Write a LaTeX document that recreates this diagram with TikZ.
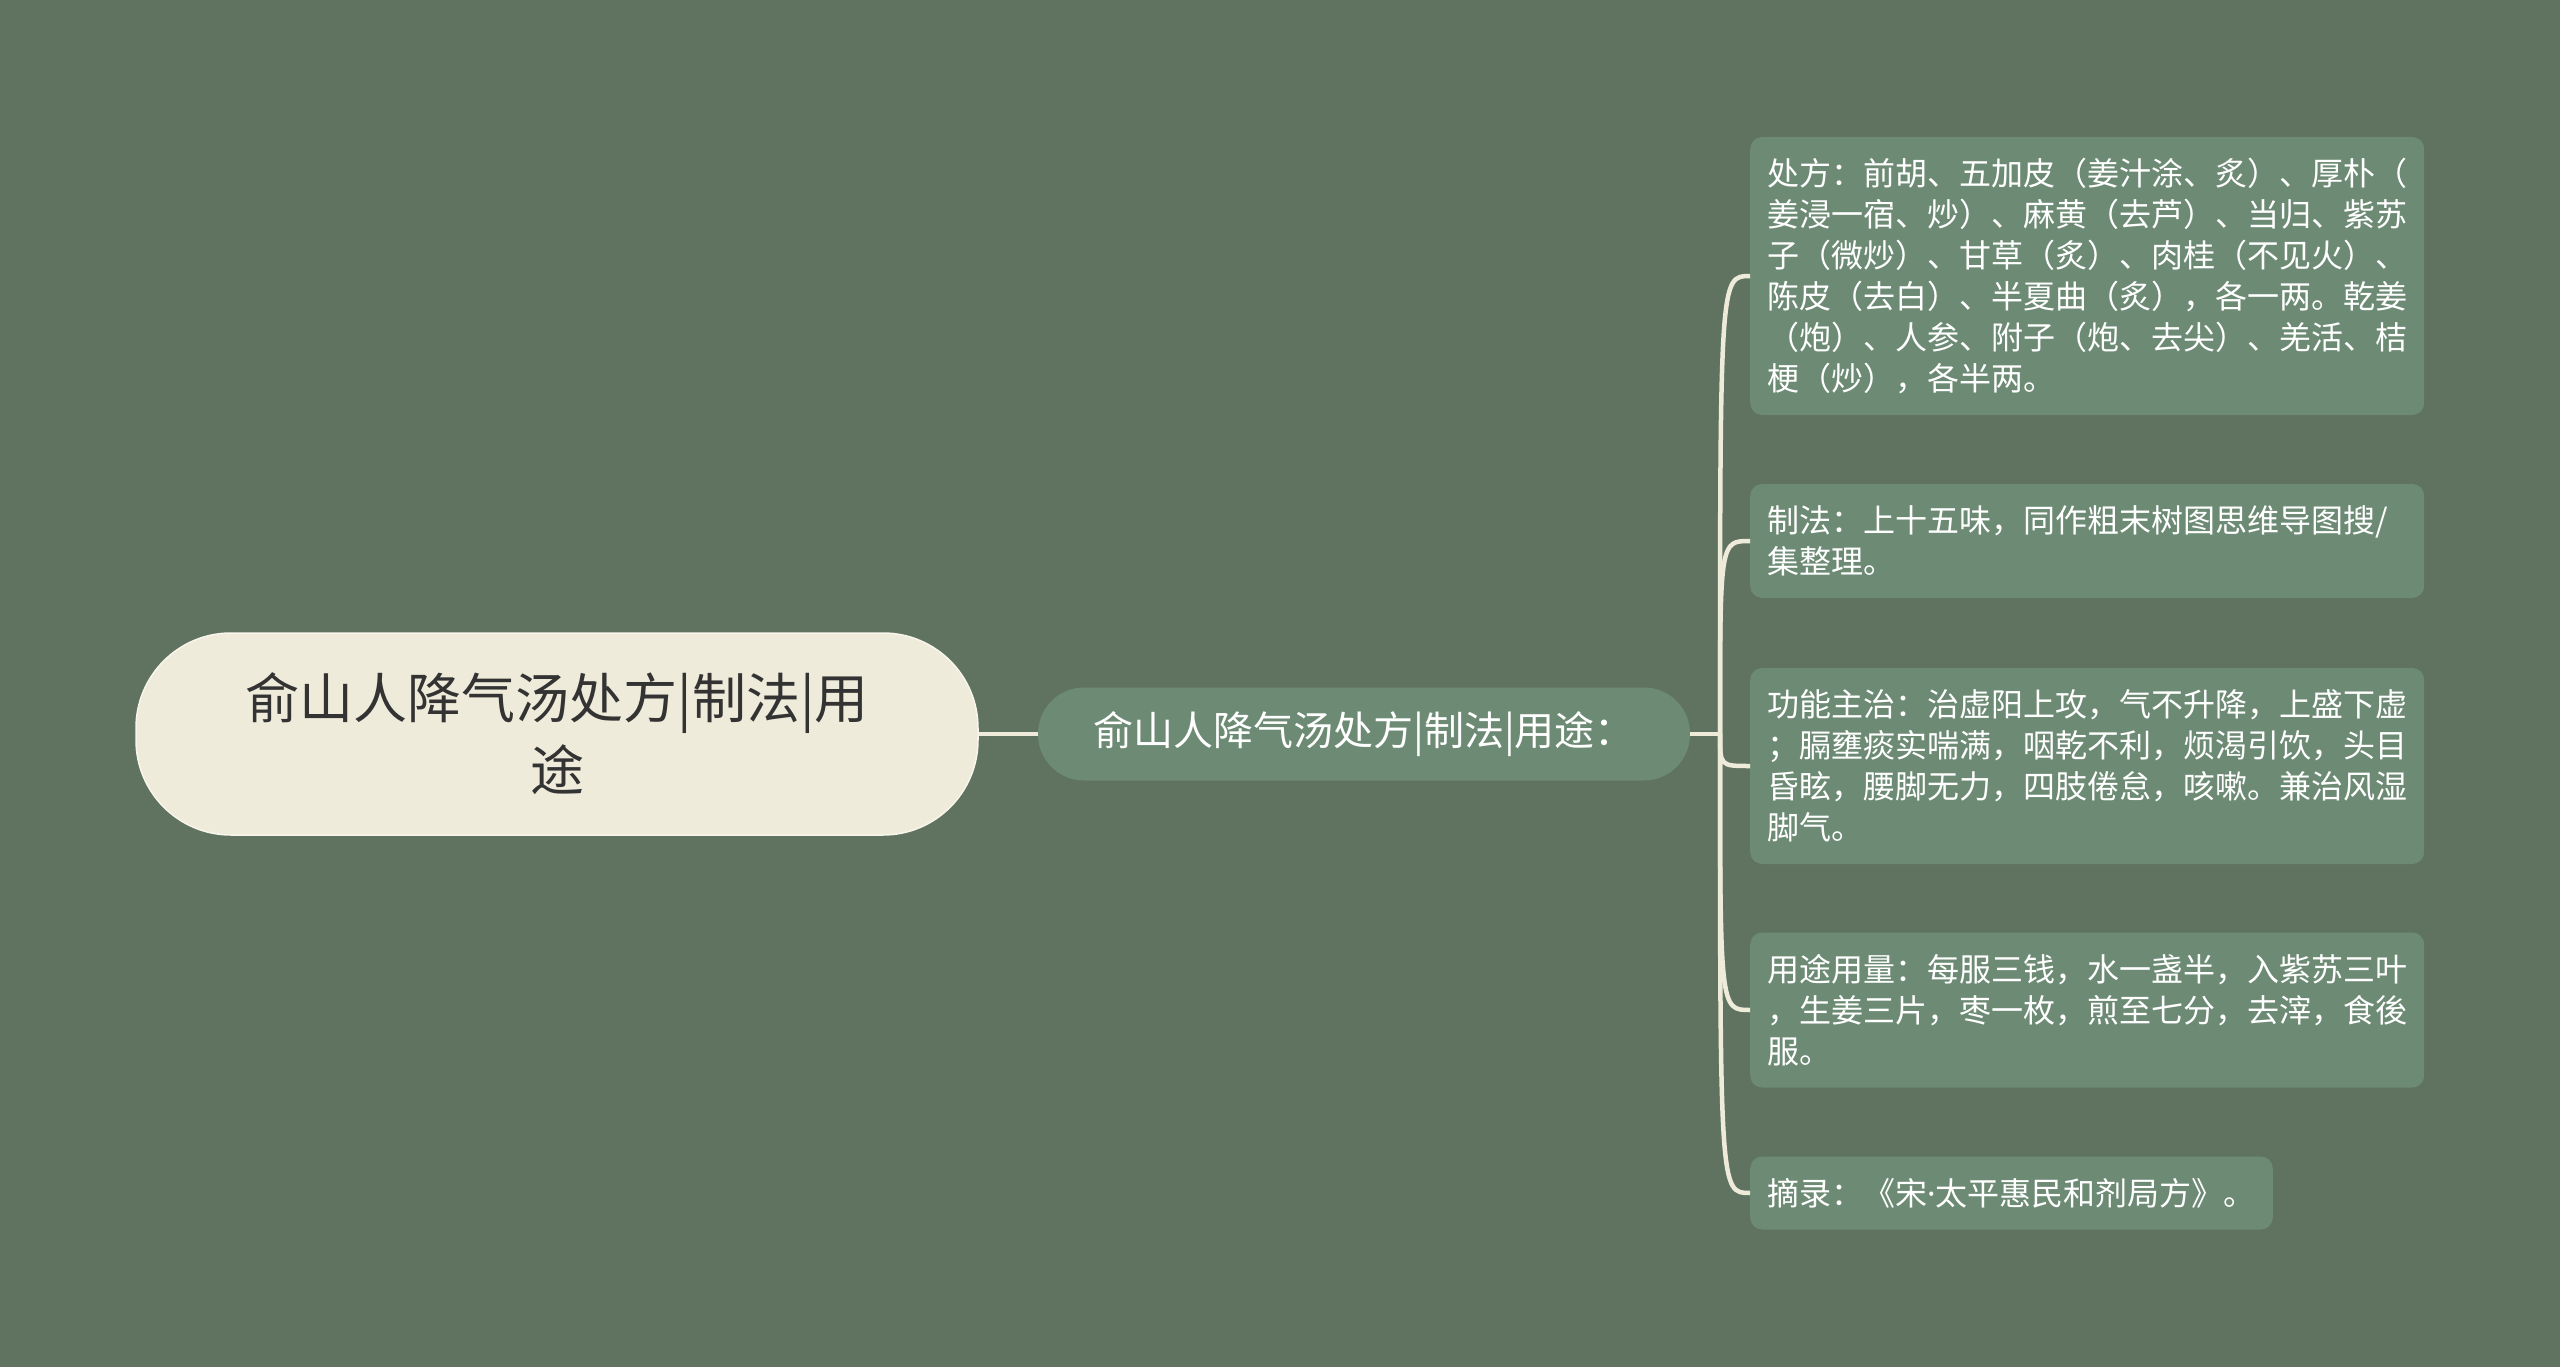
\documentclass[tikz,border=0pt]{standalone}
\usepackage{fontspec}
\newfontfamily\cjk{Noto Sans CJK SC}
\newfontfamily\latinsans{Noto Sans}
\definecolor{bgcol}{HTML}{607360}
\definecolor{cream}{HTML}{EFEBDA}
\definecolor{leafcol}{HTML}{6D8B74}
\definecolor{darktext}{HTML}{333333}
\newcommand\lstrut{\rule[-8.5pt]{0pt}{41pt}}
\tikzset{
  rootnode/.style={fill=cream, draw=cream!50!white, line width=1.5pt,
    rounded corners=95pt, minimum width=842pt, minimum height=202pt,
    align=center, text=darktext, font=\cjk\fontsize{54}{72}\selectfont},
  midnode/.style={fill=leafcol, rounded corners=46pt, minimum width=652pt,
    minimum height=93pt, text=white, font=\cjk\fontsize{40}{48}\selectfont},
  leafnode/.style={fill=leafcol, rounded corners=12pt, anchor=west,
    align=left, text=white, inner xsep=17pt, inner ysep=16pt,
    font=\cjk\fontsize{32}{41}\selectfont,
    execute at begin node=\lstrut, execute at end node=\lstrut},
  wide/.style={text width=640pt},
  link/.style={draw=cream, line width=4.5pt},
}
\begin{document}
\begin{tikzpicture}[x=1pt,y=-1pt]
      \fill[bgcol] (0,0) rectangle (2560,1367);
      \path
        (557,734) node[rootnode] (0) {俞山人降气汤处方|制法|用\\途}
        (1364,734) node[midnode] (1) {俞山人降气汤处方|制法|用途：}
        (1750,276) node[leafnode,wide] (2) {处方：前胡、五加皮（姜汁涂、炙）、厚朴（\\姜浸一宿、炒）、麻黄（去芦）、当归、紫苏\\子（微炒）、甘草（炙）、肉桂（不见火）、\\陈皮（去白）、半夏曲（炙），各一两。乾姜\\（炮）、人参、附子（炮、去尖）、羌活、桔\\梗（炒），各半两。}
        (1750,541) node[leafnode,wide] (3) {制法：上十五味，同作粗末树图思维导图搜/\\集整理。}
        (1750,766) node[leafnode,wide] (4) {功能主治：治虚阳上攻，气不升降，上盛下虚\\；膈壅痰实喘满，咽乾不利，烦渴引饮，头目\\昏眩，腰脚无力，四肢倦怠，咳嗽。兼治风湿\\脚气。}
        (1750,1010) node[leafnode,wide] (5) {用途用量：每服三钱，水一盏半，入紫苏三叶\\，生姜三片，枣一枚，煎至七分，去滓，食後\\服。}
        (1750,1193) node[leafnode] (6) {摘录：《宋{\latinsans ·}太平惠民和剂局方》。};
      \coordinate (j) at (1720,734);
      \begin{scope}[link]
        \draw (0) to (1);
        \draw (1) to (j);
        \draw (j) .. controls (j |- 2.west) .. (2.west);
        \draw (j) .. controls (j |- 3.west) .. (3.west);
        \draw (j) .. controls (j |- 4.west) .. (4.west);
        \draw (j) .. controls (j |- 5.west) .. (5.west);
        \draw (j) .. controls (j |- 6.west) .. (6.west);
      \end{scope}
    \end{tikzpicture}
\end{document}
